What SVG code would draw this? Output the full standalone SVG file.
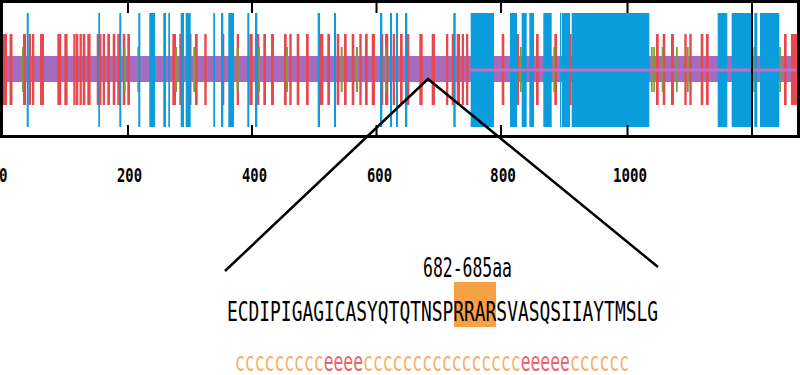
<svg xmlns="http://www.w3.org/2000/svg" width="800" height="375" viewBox="0 0 800 375">
<style>
.r{fill:#e8484d}
.b{fill:#0a9cdb}
.g{fill:#7f9c3c}
.t{font-family:"DejaVu Sans Mono","Liberation Mono",monospace}
.ax{font-size:20px;font-weight:bold;fill:#000}
.ln{stroke:#000;stroke-width:2.5;fill:none}
.tk{stroke:#000;stroke-width:2}
.c{fill:#f4b06c}
.e{fill:#e8646c}
</style>
<rect width="800" height="375" fill="#fff"/>
<g id="track">
<rect x="3" y="56" width="794" height="26" fill="#a56bbe"/>
<g id="red-bars">
<rect class="r" x="2" y="34" width="5" height="71"/>
<rect class="r" x="9.5" y="34" width="3" height="71"/>
<rect class="r" x="23" y="34" width="3" height="71"/>
<rect class="r" x="28.5" y="34" width="2.5" height="71"/>
<rect class="r" x="32" y="34" width="2.3" height="71"/>
<rect class="r" x="40" y="34" width="4" height="71"/>
<rect class="r" x="57.3" y="34" width="4" height="71"/>
<rect class="r" x="64.3" y="34" width="3.3" height="71"/>
<rect class="r" x="73.3" y="34" width="2.3" height="71"/>
<rect class="r" x="76" y="34" width="2.3" height="71"/>
<rect class="r" x="79.5" y="34" width="2.3" height="71"/>
<rect class="r" x="82.7" y="34" width="2.6" height="71"/>
<rect class="r" x="87.3" y="34" width="3.3" height="71"/>
<rect class="r" x="96.7" y="34" width="2.5" height="71"/>
<rect class="r" x="99.5" y="34" width="2" height="71"/>
<rect class="r" x="102.7" y="34" width="2.3" height="71"/>
<rect class="r" x="107.3" y="34" width="2.7" height="71"/>
<rect class="r" x="112.7" y="34" width="2.6" height="71"/>
<rect class="r" x="117.3" y="34" width="2.7" height="71"/>
<rect class="r" x="122.7" y="34" width="2.6" height="71"/>
<rect class="r" x="127.3" y="34" width="2.7" height="71"/>
<rect class="r" x="172.3" y="34" width="3.7" height="71"/>
<rect class="r" x="179.3" y="34" width="2.7" height="71"/>
<rect class="r" x="189" y="34" width="2.5" height="71"/>
<rect class="r" x="195" y="34" width="2.7" height="71"/>
<rect class="r" x="204.3" y="34" width="2.4" height="71"/>
<rect class="r" x="221.7" y="34" width="2.6" height="71"/>
<rect class="r" x="230.7" y="34" width="2.5" height="71"/>
<rect class="r" x="236.7" y="34" width="2.3" height="71"/>
<rect class="r" x="249.3" y="34" width="3.4" height="71"/>
<rect class="r" x="256.7" y="34" width="2.6" height="71"/>
<rect class="r" x="263.3" y="34" width="2.7" height="71"/>
<rect class="r" x="271" y="34" width="3" height="71"/>
<rect class="r" x="284" y="34" width="2.7" height="71"/>
<rect class="r" x="289.3" y="34" width="2.4" height="71"/>
<rect class="r" x="296.7" y="34" width="2.6" height="71"/>
<rect class="r" x="306" y="34" width="2.7" height="71"/>
<rect class="r" x="320" y="34" width="3.3" height="71"/>
<rect class="r" x="327.3" y="34" width="2.7" height="71"/>
<rect class="r" x="336.7" y="34" width="2.6" height="71"/>
<rect class="r" x="344" y="34" width="2.7" height="71"/>
<rect class="r" x="351.7" y="34" width="2.6" height="71"/>
<rect class="r" x="359.3" y="34" width="2.4" height="71"/>
<rect class="r" x="365" y="34" width="2.7" height="71"/>
<rect class="r" x="371.7" y="34" width="3.3" height="71"/>
<rect class="r" x="380" y="34" width="3.3" height="71"/>
<rect class="r" x="385" y="34" width="3.3" height="71"/>
<rect class="r" x="392.7" y="34" width="2.3" height="71"/>
<rect class="r" x="400" y="34" width="2.7" height="71"/>
<rect class="r" x="406.7" y="34" width="2.6" height="71"/>
<rect class="r" x="419.3" y="34" width="3.4" height="71"/>
<rect class="r" x="431.7" y="34" width="3.3" height="71"/>
<rect class="r" x="446" y="34" width="2.3" height="71"/>
<rect class="r" x="451.7" y="34" width="2.6" height="71"/>
<rect class="r" x="456.7" y="34" width="3.3" height="71"/>
<rect class="r" x="461.7" y="34" width="2.3" height="71"/>
<rect class="r" x="466" y="34" width="2.3" height="71"/>
<rect class="r" x="501.7" y="34" width="2.6" height="71"/>
<rect class="r" x="516.7" y="34" width="2.3" height="71"/>
<rect class="r" x="536" y="34" width="2.7" height="71"/>
<rect class="r" x="554.3" y="34" width="2.7" height="71"/>
<rect class="r" x="569.3" y="34" width="2.4" height="71"/>
<rect class="r" x="656" y="34" width="2.7" height="71"/>
<rect class="r" x="662.7" y="34" width="2.6" height="71"/>
<rect class="r" x="671" y="34" width="3" height="71"/>
<rect class="r" x="684.3" y="34" width="2.4" height="71"/>
<rect class="r" x="689.3" y="34" width="2.4" height="71"/>
<rect class="r" x="700.7" y="34" width="2.6" height="71"/>
<rect class="r" x="706" y="34" width="2.7" height="71"/>
<rect class="r" x="784" y="34" width="2.7" height="71"/>
<rect class="r" x="791" y="34" width="6" height="71"/>
</g>
<g id="green-bars">
<rect class="g" x="22" y="47" width="1.5" height="45"/>
<rect class="g" x="124" y="47" width="1.5" height="45"/>
<rect class="g" x="137.3" y="47" width="1.4" height="45"/>
<rect class="g" x="175" y="47" width="2" height="45"/>
<rect class="g" x="193.3" y="47" width="2" height="45"/>
<rect class="g" x="236.7" y="47" width="2" height="45"/>
<rect class="g" x="258.3" y="47" width="1.7" height="45"/>
<rect class="g" x="286" y="47" width="2" height="45"/>
<rect class="g" x="340.7" y="47" width="2" height="45"/>
<rect class="g" x="356" y="47" width="2" height="45"/>
<rect class="g" x="385" y="47" width="1.7" height="45"/>
<rect class="g" x="520" y="47" width="1.7" height="45"/>
<rect class="g" x="553.3" y="47" width="1.7" height="45"/>
<rect class="g" x="651" y="47" width="1.7" height="45"/>
<rect class="g" x="653.3" y="47" width="1.7" height="45"/>
<rect class="g" x="661.7" y="47" width="1.6" height="45"/>
<rect class="g" x="676" y="47" width="1.7" height="45"/>
<rect class="g" x="686.7" y="47" width="2" height="45"/>
<rect class="g" x="753.3" y="47" width="1.7" height="45"/>
<rect class="g" x="779.3" y="47" width="1.7" height="45"/>
</g>
<g id="blue-bars">
<rect class="b" x="26.7" y="13" width="2" height="114"/>
<rect class="b" x="98.3" y="13" width="1.7" height="114"/>
<rect class="b" x="119.3" y="13" width="2" height="114"/>
<rect class="b" x="138.3" y="13" width="2" height="114"/>
<rect class="b" x="149.3" y="13" width="5.7" height="114"/>
<rect class="b" x="163.3" y="13" width="2.7" height="114"/>
<rect class="b" x="168.3" y="13" width="1.7" height="114"/>
<rect class="b" x="180.7" y="13" width="3.3" height="114"/>
<rect class="b" x="185.7" y="13" width="5" height="114"/>
<rect class="b" x="213.3" y="13" width="1.7" height="114"/>
<rect class="b" x="221" y="13" width="2.3" height="114"/>
<rect class="b" x="228.3" y="13" width="5.7" height="114"/>
<rect class="b" x="247.3" y="13" width="2" height="114"/>
<rect class="b" x="255" y="13" width="2.3" height="114"/>
<rect class="b" x="317.7" y="13" width="2.3" height="114"/>
<rect class="b" x="334" y="13" width="2" height="114"/>
<rect class="b" x="380" y="13" width="2.3" height="114"/>
<rect class="b" x="390" y="13" width="2" height="114"/>
<rect class="b" x="396" y="13" width="2" height="114"/>
<rect class="b" x="405" y="13" width="2.3" height="114"/>
<rect class="b" x="453.3" y="13" width="2.4" height="114"/>
<rect class="b" x="470.7" y="13" width="23.3" height="114"/>
<rect class="b" x="510" y="13" width="7" height="114"/>
<rect class="b" x="521.7" y="13" width="5" height="114"/>
<rect class="b" x="529.3" y="13" width="4.7" height="114"/>
<rect class="b" x="543.3" y="13" width="8.4" height="114"/>
<rect class="b" x="560" y="13" width="1" height="114"/>
<rect class="b" x="561.7" y="13" width="8.3" height="114"/>
<rect class="b" x="571.7" y="13" width="77.6" height="114"/>
<rect class="b" x="717.7" y="13" width="9.6" height="114"/>
<rect class="b" x="731.7" y="13" width="20" height="114"/>
<rect class="b" x="754.3" y="13" width="3" height="114"/>
<rect class="b" x="760" y="13" width="19.3" height="114"/>
</g>
<rect x="470" y="68.5" width="327" height="3" fill="#c070c6"/>
</g>
<g id="frame">
<rect x="1.5" y="1.5" width="797" height="135" fill="none" stroke="#000" stroke-width="3"/>
<path class="tk" d="M128 2V13M128 125V137M252 2V13M252 125V137M376.5 2V13M376.5 125V137M501 2V13M501 125V137M627.5 2V13M627.5 125V137M752 2V137"/>
</g>
<g id="axis-labels" class="t ax">
<text x="-1" y="182" textLength="8.5" lengthAdjust="spacingAndGlyphs">0</text>
<text x="117" y="182" textLength="25" lengthAdjust="spacingAndGlyphs">200</text>
<text x="242" y="182" textLength="25" lengthAdjust="spacingAndGlyphs">400</text>
<text x="367" y="182" textLength="25" lengthAdjust="spacingAndGlyphs">600</text>
<text x="490" y="182" textLength="26" lengthAdjust="spacingAndGlyphs">800</text>
<text x="613" y="182" textLength="34" lengthAdjust="spacingAndGlyphs">1000</text>
</g>
<g id="connectors">
<path class="ln" d="M225 271L428 79L658 267"/>
</g>
<g id="sequence">
<rect x="454" y="282" width="42" height="45" fill="#f7a145"/>
<text class="t" x="423" y="277" font-size="27" textLength="89" lengthAdjust="spacingAndGlyphs">682-685aa</text>
<text class="t" x="227" y="321" font-size="27" textLength="431" lengthAdjust="spacingAndGlyphs">ECDIPIGAGICASYQTQTNSPRRARSVASQSIIAYTMSLG</text>
</g>
<g id="secondary-structure">
<text class="t" font-size="26" x="235" y="371" textLength="394" lengthAdjust="spacingAndGlyphs"><tspan class="c">ccccccccc</tspan><tspan class="e">eeee</tspan><tspan class="c">cccccccccccccccc</tspan><tspan class="e">eeeee</tspan><tspan class="c">cccccc</tspan></text>
</g>
</svg>
